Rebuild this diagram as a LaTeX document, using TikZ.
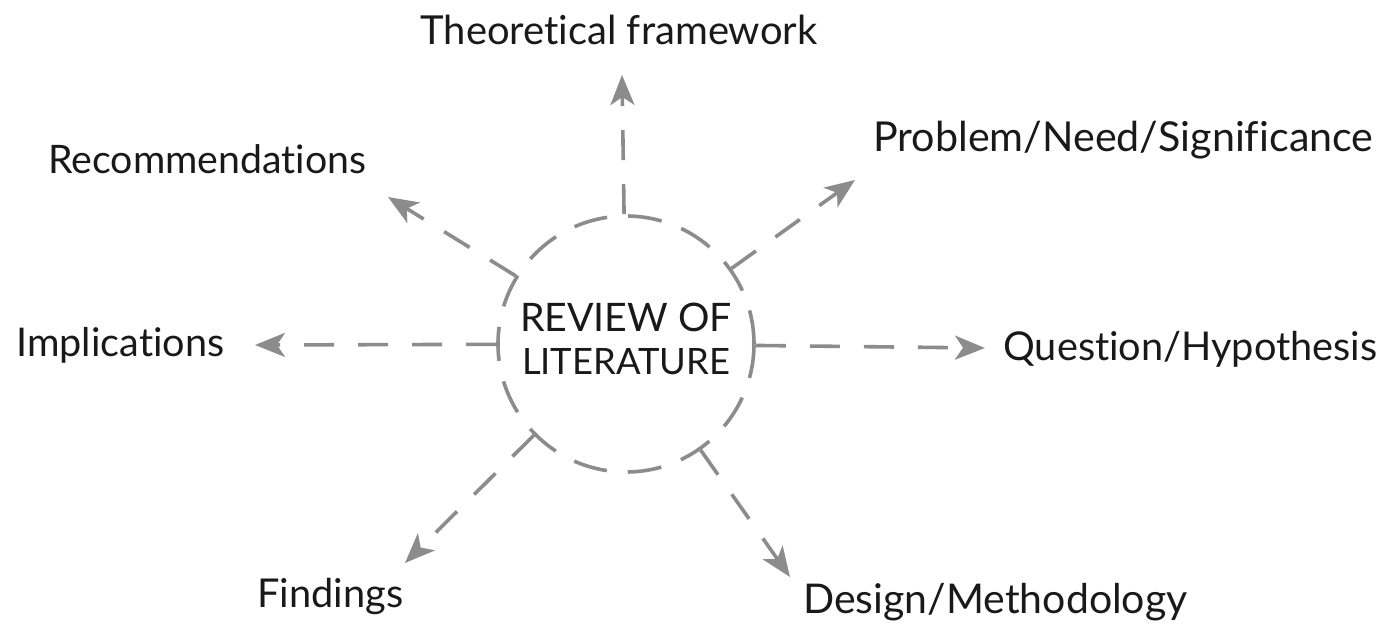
\documentclass[tikz,border=0pt]{standalone}
\usepackage{fontspec}
\setmainfont{Lato}[Ligatures={NoCommon,NoDiscretionary}]
\usetikzlibrary{arrows.meta}
\definecolor{arrgray}{gray}{0.55}
\newcommand{\fitw}[2]{\resizebox{#1}{!}{#2}}
\tikzset{
  lbl/.style={anchor=base west, inner sep=0pt, font=\fontsize{21}{24}\selectfont, text=black!90},
  conn/.style={draw=arrgray, line width=1.8pt, dash pattern=on 15pt off 12pt,
    -{Stealth[length=15pt,width=12pt,inset=4pt,fill=arrgray]}},
  hub/.style={circle, draw=arrgray, line width=1.8pt, dash pattern=on 17pt off 10.5pt,
    minimum size=128pt, inner sep=0pt, text=black!90,
    font=\fontsize{18}{21.5pt}\selectfont}
}
\begin{document}
\begin{tikzpicture}[x=0.5pt,y=-0.5pt]
\useasboundingbox (0,0) rectangle (1389,631);
\node[hub] (c) at (626,344) {\def\arraystretch{1}\begin{tabular}{@{}c@{}}\fitw{106pt}{REVIEW OF}\\\fitw{104pt}{LITERATURE}\end{tabular}};
\coordinate (tTF) at (622,75);
\coordinate (tRe) at (388,197);
\coordinate (tPr) at (855,180);
\coordinate (tIm) at (255,345);
\coordinate (tQu) at (985,348);
\coordinate (tFi) at (405,563);
\coordinate (tDe) at (790,577);
\draw[conn] (c) -- (tTF);
\draw[conn] (c) -- (tRe);
\draw[conn] (c) -- (tPr);
\draw[conn] (c) -- (tIm);
\draw[conn] (c) -- (tQu);
\draw[conn] (c) -- (tFi);
\draw[conn] (c) -- (tDe);
\node[lbl] (lTF) at (420,45) {\fitw{198.5pt}{Theoretical framework}};
\node[lbl] (lRe) at (48,174) {\fitw{159pt}{Recommendations}};
\node[lbl] (lPr) at (873,152) {\fitw{250pt}{Problem/Need/Significance}};
\node[lbl] (lIm) at (16,356) {\fitw{104pt}{Implications}};
\node[lbl] (lQu) at (1003,360) {\fitw{187pt}{Question/Hypothesis}};
\node[lbl] (lFi) at (257,607) {\fitw{73pt}{Findings}};
\node[lbl] (lDe) at (803,613) {\fitw{192pt}{Design/Methodology}};
\end{tikzpicture}
\end{document}
